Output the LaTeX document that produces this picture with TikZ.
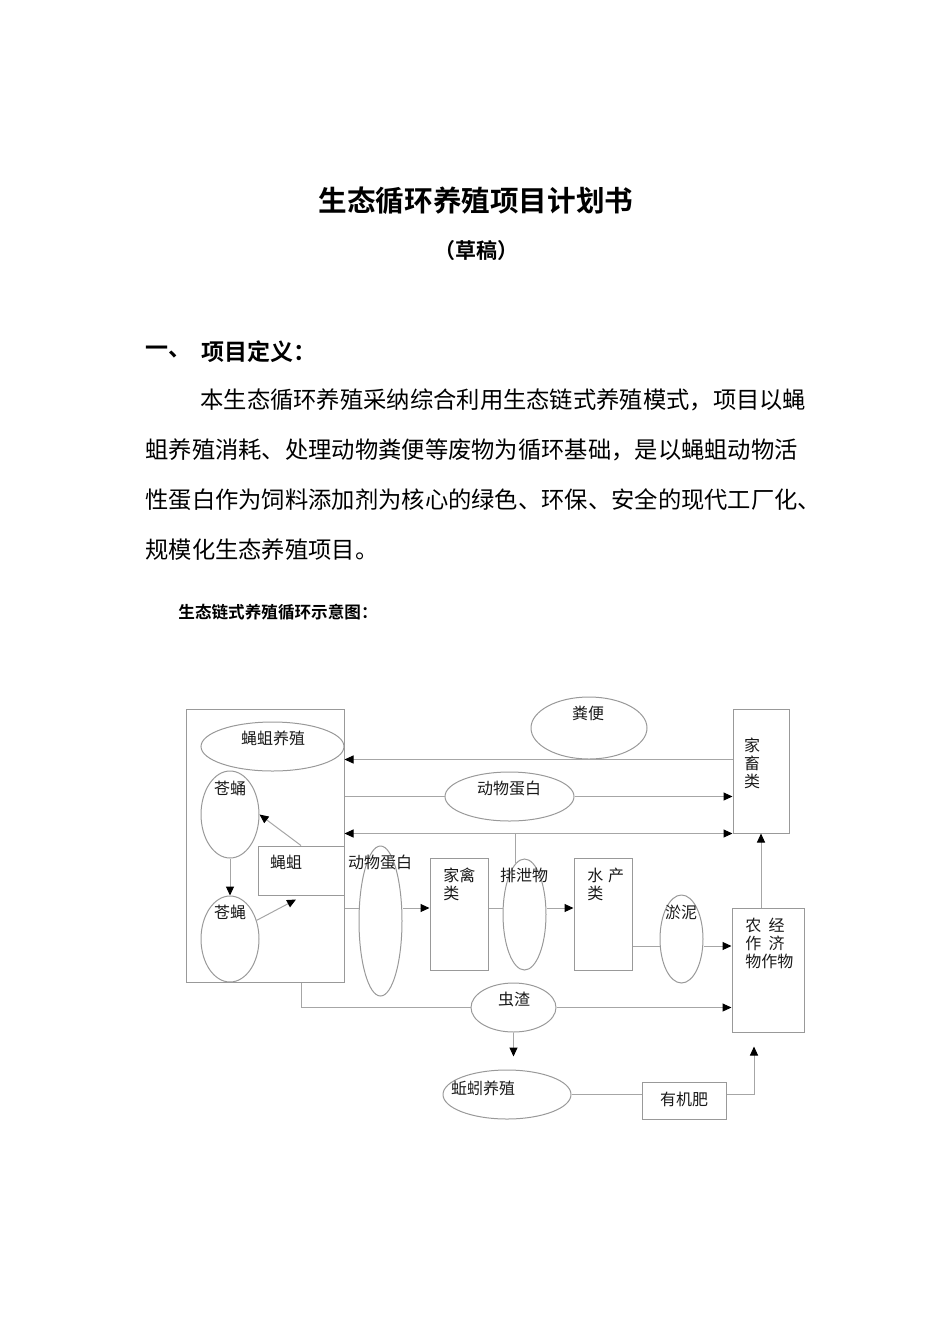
\documentclass[tikz,border=0pt]{standalone}
\usepackage{fontspec}
\setmainfont{Noto Sans CJK SC}[BoldFont={Noto Sans CJK SC Bold}]
\usetikzlibrary{positioning,arrows.meta,shapes.geometric}
\newcommand{\bodyfont}{\fontsize{11.65pt}{14pt}\selectfont}
\tikzset{
  box/.style={draw=black!40, line width=0.5pt, rectangle, inner sep=0pt},
  oval/.style={draw=black!40, line width=0.5pt, ellipse, inner sep=0pt},
  lbl/.style={inner sep=0pt, font=\fontsize{8pt}{9pt}\selectfont, text=black!90, align=left},
  link/.style={draw=black!35, line width=0.5pt},
  flow/.style={link, -{Triangle[length=4.5pt,width=4pt,color=black]}},
  both/.style={link, {Triangle[length=4.5pt,width=4pt,color=black]}-{Triangle[length=4.5pt,width=4pt,color=black]}},
}

\begin{document}
\begin{tikzpicture}[x=0.5pt, y=-0.5pt]
    \useasboundingbox (0,0) rectangle (950,1344);

    % page text
    \node[inner sep=0pt, font=\fontsize{14.3pt}{17pt}\selectfont\bfseries] (title) at (476,201) {生态循环养殖项目计划书};
    \node[inner sep=0pt, font=\fontsize{10.5pt}{12pt}\selectfont\bfseries] (draft) at (476,251) {（草稿）};
    \node[inner sep=0pt, anchor=west, font=\fontsize{11.5pt}{14pt}\selectfont\bfseries] (secno) at (145,352) {一、};
    \node[inner sep=0pt, anchor=west, font=\fontsize{11.5pt}{14pt}\selectfont\bfseries] (sec) at (201,352) {项目定义：};
    \node[inner sep=0pt, anchor=west, font=\bodyfont] (par1) at (200,400) {本生态循环养殖采纳综合利用生态链式养殖模式，项目以蝇};
    \node[inner sep=0pt, anchor=west, font=\bodyfont] (par2) at (145,450) {蛆养殖消耗、处理动物粪便等废物为循环基础，是以蝇蛆动物活};
    \node[inner sep=0pt, anchor=west, font=\bodyfont] (par3) at (145,500) {性蛋白作为饲料添加剂为核心的绿色、环保、安全的现代工厂化、};
    \node[inner sep=0pt, anchor=west, font=\bodyfont] (par4) at (145,550) {规模化生态养殖项目。};
    \node[inner sep=0pt, anchor=west, font=\fontsize{8.3pt}{10pt}\selectfont\bfseries] (caption) at (178,612) {生态链式养殖循环示意图：};

    % shapes
    \node[box, minimum width=79pt, minimum height=136.5pt] (fly) at (265,845.5) {};
    \node[oval, minimum width=71.5pt, minimum height=24.5pt] (farm) at (272.5,746.5) {};
    \node[oval, minimum width=29pt, minimum height=43.5pt] (pupa) at (230,814.5) {};
    \node[oval, minimum width=29pt, minimum height=43pt] (housefly) at (230,939) {};
    \node[box, minimum width=43pt, minimum height=24.5pt] (maggot) at (301,870.5) {};
    \node[oval, minimum width=58pt, minimum height=31pt] (dung) at (589,728) {};
    \node[oval, minimum width=64.5pt, minimum height=24.5pt] (protein) at (509.5,796.5) {};
    \node[box, minimum width=28pt, minimum height=62pt] (livestock) at (761,771) {};
    \node[oval, minimum width=21.5pt, minimum height=75pt] (protein2) at (380.5,921) {};
    \node[box, minimum width=29pt, minimum height=56pt] (poultry) at (459,914) {};
    \node[oval, minimum width=21.5pt, minimum height=55.5pt] (excreta) at (524.5,914.5) {};
    \node[box, minimum width=29pt, minimum height=56pt] (aquatic) at (603,914) {};
    \node[oval, minimum width=21.5pt, minimum height=44pt] (silt) at (681.5,939) {};
    \node[box, minimum width=36pt, minimum height=62pt] (crops) at (768,970) {};
    \node[oval, minimum width=42.5pt, minimum height=24.5pt] (residue) at (513.5,1007.5) {};
    \node[oval, minimum width=64pt, minimum height=24.5pt] (worm) at (507,1094.5) {};
    \node[box, minimum width=42pt, minimum height=18.5pt] (fert) at (684,1100.5) {};

    % labels
    \node[lbl] (farm-t) at (273,738) {蝇蛆养殖};
    \node[lbl] (pupa-t) at (230,788) {苍蛹};
    \node[lbl] (housefly-t) at (230,912) {苍蝇};
    \node[lbl] (maggot-t) at (286,862) {蝇蛆};
    \node[lbl] (dung-t) at (588,713) {粪便};
    \node[lbl] (protein-t) at (509,788) {动物蛋白};
    \node[lbl] (protein2-t) at (380,862) {动物蛋白};
    \node[lbl, anchor=west] (poultry-t) at (443,884) {家禽\\类};
    \node[lbl] (excreta-t) at (524,875) {排泄物};
    \node[lbl, anchor=west] (aquatic-t) at (587,884) {水\hspace{0.3em}产\\类};
    \node[lbl] (silt-t) at (681,912) {淤泥};
    \node[lbl, align=center] (livestock-t) at (752,763) {家\\畜\\类};
    \node[lbl, anchor=west] (crops-t) at (745,943) {农\hspace{0.45em}经\\作\hspace{0.45em}济\\物作物};
    \node[lbl] (residue-t) at (514,999) {虫渣};
    \node[lbl] (worm-t) at (483,1088) {蚯蚓养殖};
    \node[lbl] (fert-t) at (684,1099) {有机肥};

    \coordinate (row2) at (0,908);
    \coordinate (row3) at (0,946);

    % fly cycle
    \draw[flow] (pupa.south) -- (housefly.north);
    \draw[flow] (maggot.north) -- (pupa.east);
    \draw[flow] (housefly.35) -- ([xshift=-2.5pt,yshift=-2pt]maggot.south);

    % top links
    \draw[flow] (livestock.west |- dung.south) -- (fly.east |- dung.south);
    \draw[link] (fly.east |- protein.west) -- (protein.west);
    \draw[flow] (protein.east) -- (livestock.west |- protein.east);
    \draw[both] (fly.east |- livestock.south) -- (livestock.south west);
    \draw[link] (excreta.100) -- (excreta.100 |- livestock.south);

    % middle row
    \draw[link] (fly.east |- row2) -- (protein2.west |- row2);
    \draw[flow] (protein2.east |- row2) -- (poultry.west |- row2);
    \draw[link] (poultry.east |- row2) -- (excreta.west |- row2);
    \draw[flow] (excreta.east |- row2) -- (aquatic.west |- row2);
    \draw[link] (aquatic.east |- row3) -- (silt.west |- row3);
    \draw[flow] (silt.east |- row3) -- (crops.west |- row3);
    \draw[flow] (crops.north -| livestock.south) -- (livestock.south);

    % bottom
    \draw[link] (fly.south -| maggot.south) |- (residue.west);
    \draw[flow] (residue.east) -- (crops.west |- residue.east);
    \draw[flow, shorten >=6.5pt] (residue.south) -- (residue.south |- worm.north);
    \draw[link] (worm.east) -- (fert.west |- worm.east);
    \draw[flow, shorten >=7pt] (fert.east |- worm.east) -| ([xshift=-7pt]crops.south);
\end{tikzpicture}
\end{document}
